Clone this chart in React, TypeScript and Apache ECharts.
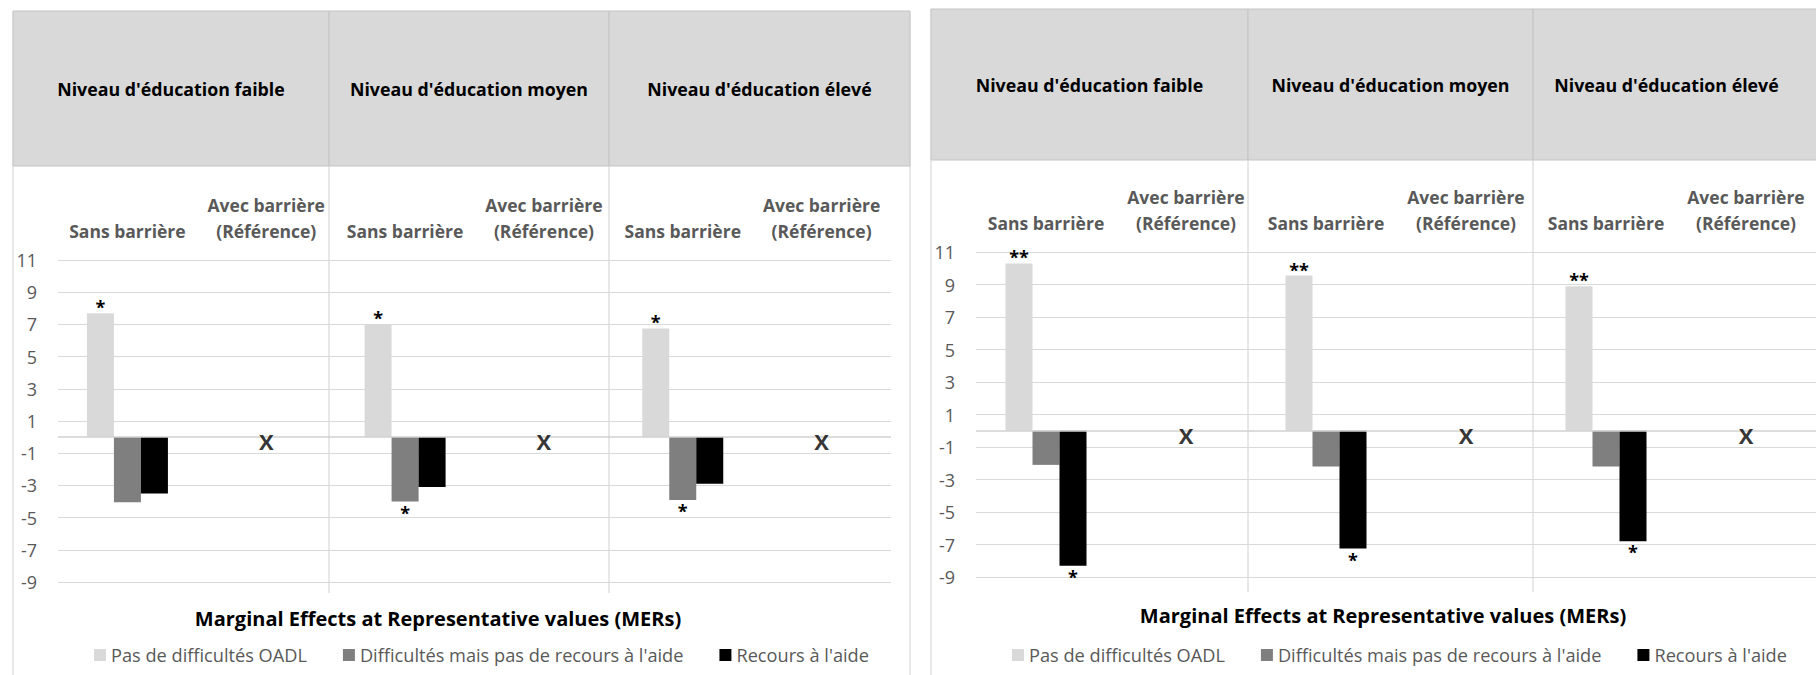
import React, { useEffect, useRef } from "react";
import * as echarts from "echarts";

// ---------- data ----------
const panelTitles = ["Niveau d'éducation faible", "Niveau d'éducation moyen", "Niveau d'éducation élevé"];
const barrierLabels = ["Sans barrière", "Avec barrière\n(Référence)"];
const seriesNames = ["Pas de difficultés OADL", "Difficultés mais pas de recours à l'aide", "Recours à l'aide"];
const yTicks = [-9, -7, -5, -3, -1, 1, 3, 5, 7, 9, 11];
const axisTitle = "Marginal Effects at Representative values (MERs)";
const referenceMark = "X";

// left chart (values per education level, "Sans barrière")
const leftNoDiff = [7.7, 7.0, 6.75];
const leftDiffNoHelp = [-4.05, -4.0, -3.9];
const leftHelp = [-3.5, -3.1, -2.9];
const leftSigNoDiff = ["*", "*", "*"];
const leftSigDiffNoHelp = ["", "*", "*"];
const leftSigHelp = ["", "", ""];

// right chart
const rightNoDiff = [10.3, 9.55, 8.9];
const rightDiffNoHelp = [-2.1, -2.2, -2.2];
const rightHelp = [-8.3, -7.25, -6.8];
const rightSigNoDiff = ["**", "**", "**"];
const rightSigDiffNoHelp = ["", "", ""];
const rightSigHelp = ["*", "*", "*"];

// ---------- styles / layout ----------
const W = 1816;
const H = 675;
const FONT = "Open Sans";
const colors = ["#d9d9d9", "#7f7f7f", "#000000"];
const gridColor = "#d9d9d9";
const labelGray = "#595959";

const layouts = [
  {
    gridLeft: 58, gridRightEdge: 891, gridTop: 260, gridBottomEdge: 582,
    box: { left: 13, right: 910, top: 11, bottom: 166 },
    dividers: [329, 609], dividerBottom: 593,
    headerY: 89, titleX: 438, titleY: 618, legendLeft: 89,
  },
  {
    gridLeft: 976, gridRightEdge: 1816, gridTop: 252, gridBottomEdge: 577,
    box: { left: 931, right: 1830, top: 9, bottom: 160 },
    dividers: [1248, 1533], dividerBottom: 592,
    headerY: 85, titleX: 1383, titleY: 615, legendLeft: 1007,
  },
];

const chartData = [
  {
    values: [leftNoDiff, leftDiffNoHelp, leftHelp],
    sigs: [leftSigNoDiff, leftSigDiffNoHelp, leftSigHelp],
  },
  {
    values: [rightNoDiff, rightDiffNoHelp, rightHelp],
    sigs: [rightSigNoDiff, rightSigDiffNoHelp, rightSigHelp],
  },
];

const categories: string[] = [];
panelTitles.forEach(() => barrierLabels.forEach((b) => categories.push(b)));

function buildOption() {
  const grid: any[] = [];
  const xAxis: any[] = [];
  const yAxis: any[] = [];
  const series: any[] = [];
  const graphic: any[] = [];
  const legend: any[] = [];

  layouts.forEach((L, g) => {
    grid.push({
      left: L.gridLeft,
      right: W - L.gridRightEdge,
      top: L.gridTop,
      bottom: H - L.gridBottomEdge,
      containLabel: false,
    });
    xAxis.push({
      type: "category",
      gridIndex: g,
      position: "top",
      data: categories,
      boundaryGap: true,
      axisLine: { show: false, onZero: false },
      axisTick: { show: false },
      splitLine: { show: false },
      axisLabel: {
        interval: 0,
        margin: 16,
        fontSize: 17.5,
        fontWeight: "bold",
        color: labelGray,
        lineHeight: 26,
        fontFamily: FONT,
      },
    });
    // value axis used by bars
    yAxis.push({
      type: "value",
      gridIndex: g,
      min: yTicks[0],
      max: yTicks[yTicks.length - 1],
      show: false,
    });
    // offset axis used for the grid lines and tick labels (ticks at -9, -7, ...)
    yAxis.push({
      type: "value",
      gridIndex: g,
      position: "left",
      min: 0,
      max: yTicks[yTicks.length - 1] - yTicks[0],
      interval: yTicks[1] - yTicks[0],
      axisLine: { show: false },
      axisTick: { show: false },
      splitLine: { show: true, lineStyle: { color: gridColor, width: 1 } },
      axisLabel: {
        margin: 21,
        fontSize: 18,
        color: labelGray,
        fontFamily: FONT,
        formatter: (v: number) => String(v + yTicks[0]),
      },
    });

    const D = chartData[g];
    seriesNames.forEach((name, s) => {
      const data: any[] = [];
      D.values[s].forEach((v, p) => {
        const sig = D.sigs[s][p];
        data.push({
          value: v,
          label: {
            show: sig !== "",
            formatter: sig,
            position: v >= 0 ? "top" : "bottom",
            distance: v >= 0 ? -3 : 2,
            fontSize: 18,
            fontWeight: "bold",
            color: "#000",
            fontFamily: FONT,
          },
        });
        data.push("-");
      });
      const ser: any = {
        type: "bar",
        name,
        xAxisIndex: g,
        yAxisIndex: g * 2,
        data,
        barWidth: 27,
        barGap: "0%",
        itemStyle: { color: colors[s] },
      };
      if (s === 0) {
        ser.markLine = {
          silent: true,
          symbol: "none",
          label: { show: false },
          lineStyle: { color: "#d0d0d0", type: "solid", width: 1.5 },
          data: [{ yAxis: 0 }],
        };
      }
      series.push(ser);
    });
    // reference markers
    const xData: any[] = [];
    panelTitles.forEach(() => {
      xData.push("-");
      xData.push(0);
    });
    series.push({
      type: "scatter",
      name: "ref" + g,
      xAxisIndex: g,
      yAxisIndex: g * 2,
      data: xData,
      symbol: "circle",
      symbolSize: 2,
      itemStyle: { color: "rgba(0,0,0,0)" },
      z: 5,
      label: {
        show: true,
        formatter: referenceMark,
        position: "inside",
        offset: [0, 4],
        fontSize: 22,
        fontWeight: "bold",
        color: "#000",
        fontFamily: FONT,
      },
    });

    // decorative panel headers
    const b = L.box;
    const edges = [b.left, L.dividers[0], L.dividers[1], b.right];
    panelTitles.forEach((t, p) => {
      graphic.push({
        type: "rect",
        shape: { x: edges[p], y: b.top, width: edges[p + 1] - edges[p], height: b.bottom - b.top },
        style: { fill: "#d9d9d9", stroke: "#c4c4c4", lineWidth: 1 },
        silent: true,
      });
      graphic.push({
        type: "text",
        x: (edges[p] + Math.min(edges[p + 1], W)) / 2 + (p === 2 && g === 1 ? -8 : 0),
        y: L.headerY,
        style: {
          text: t,
          fill: "#000",
          font: `bold 17.8px "${FONT}"`,
          textAlign: "center",
          textVerticalAlign: "middle",
        },
        silent: true,
      });
    });
    // outer borders
    graphic.push({
      type: "line",
      shape: { x1: b.left, y1: b.top, x2: b.left, y2: H },
      style: { stroke: "#d0d0d0", lineWidth: 1 },
      silent: true,
    });
    if (b.right < W) {
      graphic.push({
        type: "line",
        shape: { x1: b.right, y1: b.top, x2: b.right, y2: H },
        style: { stroke: "#d0d0d0", lineWidth: 1 },
        silent: true,
      });
    }
    L.dividers.forEach((x) => {
      graphic.push({
        type: "line",
        shape: { x1: x, y1: b.bottom, x2: x, y2: L.dividerBottom },
        style: { stroke: "#d0d0d0", lineWidth: 1 },
        silent: true,
      });
    });
    graphic.push({
      type: "text",
      x: L.titleX,
      y: L.titleY,
      style: {
        text: axisTitle,
        fill: "#000",
        font: `bold 20px "${FONT}"`,
        textAlign: "center",
        textVerticalAlign: "middle",
      },
      silent: true,
    });

    legend.push({
      left: L.legendLeft,
      top: 641,
      data: seriesNames,
      icon: "rect",
      itemWidth: 12,
      itemHeight: 12,
      itemGap: 36,
      textStyle: { fontSize: 18.2, color: labelGray, fontFamily: FONT },
      selectedMode: false,
    });
  });

  return {
    animation: false,
    backgroundColor: "#ffffff",
    textStyle: { fontFamily: FONT },
    grid,
    xAxis,
    yAxis,
    series,
    legend,
    graphic,
  };
}

export default function App() {
  const ref = useRef<HTMLDivElement>(null);
  useEffect(() => {
    if (!ref.current) return;
    const chart = echarts.init(ref.current, undefined, { renderer: "svg" });
    chart.setOption(buildOption() as any);
    return () => chart.dispose();
  }, []);
  return (
    <div
      ref={ref}
      style={{ position: "fixed", left: 0, top: 0, width: W, height: H, background: "#fff" }}
    />
  );
}
